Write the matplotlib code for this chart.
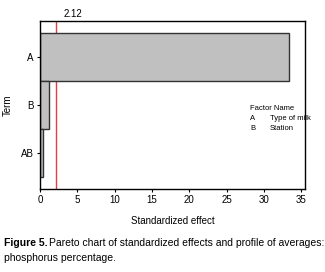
import matplotlib.pyplot as plt
import matplotlib.font_manager as fm

# === Data ===
terms = ['A', 'B', 'AB']
effects = [33.3, 1.25, 0.45]
critical = 2.12
factors = ['A', 'B']
factor_names = ['Type of milk', 'Station']

names = {f.name for f in fm.fontManager.ttflist}
fam = 'Liberation Sans Narrow' if 'Liberation Sans Narrow' in names else 'Liberation Sans'
plt.rcParams['font.family'] = [fam, 'DejaVu Sans']

fig = plt.figure(figsize=(3.25, 2.72), dpi=100)
ax = fig.add_axes([40 / 325, 1 - 189 / 272, 265 / 325, 168 / 272])

ypos = list(range(len(terms)))
ax.axvline(critical, color='#e0404a', linewidth=1.0, zorder=1)
ax.barh(ypos, effects, height=0.98, color='#c0c0c0', edgecolor='#333333',
        linewidth=1.0, zorder=2)
ax.text(critical + 1.0, -0.8, f'{critical:.2f}', fontsize=7, ha='left', va='bottom')

ax.set_xlim(0, 35.5)
ax.set_ylim(2.75, -0.75)
ax.set_yticks(ypos)
ax.set_yticklabels(terms)
ax.set_xticks(range(0, 36, 5))
ax.tick_params(labelsize=7, length=2.5, width=0.8, pad=2)
for s in ax.spines.values():
    s.set_linewidth(1.0)
ax.set_xlabel('Standardized effect', fontsize=7, labelpad=8)
ax.set_ylabel('Term', fontsize=7, labelpad=6)

# factor legend
fig.text(250 / 325, 1 - 109 / 272, 'Factor Name', fontsize=5.5, va='center')
for i, (f, n) in enumerate(zip(factors, factor_names)):
    y = 1 - (119 + 10 * i) / 272
    fig.text(250 / 325, y, f, fontsize=5.5, va='center')
    fig.text(270 / 325, y, n, fontsize=5.5, va='center')

# caption
fig.text(4 / 325, 1 - 243 / 272, 'Figure 5.', fontsize=7.5, fontweight='bold', va='center')
fig.text(49 / 325, 1 - 243 / 272, 'Pareto chart of standardized effects and profile of averages:',
         fontsize=7.5, va='center')
fig.text(4 / 325, 1 - 258 / 272, 'phosphorus percentage.', fontsize=7.5, va='center')

fig.savefig('out.png', dpi=100)
